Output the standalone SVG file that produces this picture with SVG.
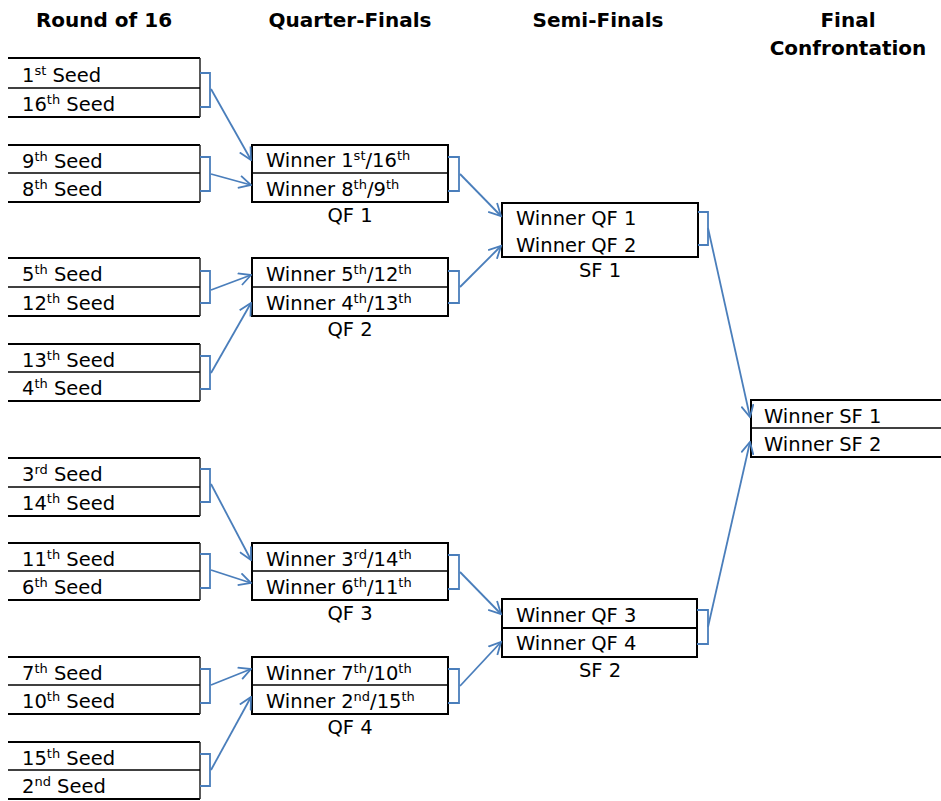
<svg xmlns="http://www.w3.org/2000/svg" width="941" height="801" viewBox="0 0 941 801">
<style>
text{font-family:"DejaVu Sans","Verdana",sans-serif;font-size:19.5px;fill:#000}
.h{font-weight:bold;font-size:20px;text-anchor:middle}
.c{text-anchor:middle}
.edge{stroke:#000;stroke-width:2;fill:none}
.side{stroke:#222;stroke-width:1.5;fill:none}
.mid{stroke:#000;stroke-width:1.3;fill:none}
.br{stroke:#4a7ebb;stroke-width:1.8;fill:none}
.ar{stroke:#4a7ebb;stroke-width:1.8;fill:none;marker-end:url(#a)}
</style>
<defs>
<marker id="a" markerUnits="userSpaceOnUse" viewBox="0 0 14 14" markerWidth="14" markerHeight="14" refX="12.5" refY="7" orient="auto">
<path d="M0.5,0.8 L12.5,7 L0.5,13.2" fill="none" stroke="#4a7ebb" stroke-width="1.8"/>
</marker>
</defs>
<rect width="941" height="801" fill="#fff"/>
<g id="headers">
<text class="h" x="104" y="27">Round of 16</text>
<text class="h" x="350" y="27">Quarter-Finals</text>
<text class="h" x="598" y="27">Semi-Finals</text>
<text class="h" x="848" y="27">Final</text>
<text class="h" x="848" y="55">Confrontation</text>
</g>
<g id="r16-1"><path class="edge" d="M8,58 H200 M8,117 H200"/><path class="side" d="M200,58 V117"/><path class="mid" d="M8,88 H200"/>
<text x="22" y="82">1<tspan dy="-7" font-size="13">st</tspan><tspan dy="7"> Seed</tspan></text>
<text x="22" y="111">16<tspan dy="-7" font-size="13">th</tspan><tspan dy="7"> Seed</tspan></text></g>
<g id="r16-2"><path class="edge" d="M8,145 H200 M8,202 H200"/><path class="side" d="M200,145 V202"/><path class="mid" d="M8,173 H200"/>
<text x="22" y="168">9<tspan dy="-7" font-size="13">th</tspan><tspan dy="7"> Seed</tspan></text>
<text x="22" y="196">8<tspan dy="-7" font-size="13">th</tspan><tspan dy="7"> Seed</tspan></text></g>
<g id="r16-3"><path class="edge" d="M8,258 H200 M8,316 H200"/><path class="side" d="M200,258 V316"/><path class="mid" d="M8,287 H200"/>
<text x="22" y="281">5<tspan dy="-7" font-size="13">th</tspan><tspan dy="7"> Seed</tspan></text>
<text x="22" y="310">12<tspan dy="-7" font-size="13">th</tspan><tspan dy="7"> Seed</tspan></text></g>
<g id="r16-4"><path class="edge" d="M8,344 H200 M8,401 H200"/><path class="side" d="M200,344 V401"/><path class="mid" d="M8,372 H200"/>
<text x="22" y="367">13<tspan dy="-7" font-size="13">th</tspan><tspan dy="7"> Seed</tspan></text>
<text x="22" y="395">4<tspan dy="-7" font-size="13">th</tspan><tspan dy="7"> Seed</tspan></text></g>
<g id="r16-5"><path class="edge" d="M8,458 H200 M8,516 H200"/><path class="side" d="M200,458 V516"/><path class="mid" d="M8,487 H200"/>
<text x="22" y="481">3<tspan dy="-7" font-size="13">rd</tspan><tspan dy="7"> Seed</tspan></text>
<text x="22" y="510">14<tspan dy="-7" font-size="13">th</tspan><tspan dy="7"> Seed</tspan></text></g>
<g id="r16-6"><path class="edge" d="M8,543 H200 M8,600 H200"/><path class="side" d="M200,543 V600"/><path class="mid" d="M8,571 H200"/>
<text x="22" y="566">11<tspan dy="-7" font-size="13">th</tspan><tspan dy="7"> Seed</tspan></text>
<text x="22" y="594">6<tspan dy="-7" font-size="13">th</tspan><tspan dy="7"> Seed</tspan></text></g>
<g id="r16-7"><path class="edge" d="M8,657 H200 M8,714 H200"/><path class="side" d="M200,657 V714"/><path class="mid" d="M8,685 H200"/>
<text x="22" y="680">7<tspan dy="-7" font-size="13">th</tspan><tspan dy="7"> Seed</tspan></text>
<text x="22" y="708">10<tspan dy="-7" font-size="13">th</tspan><tspan dy="7"> Seed</tspan></text></g>
<g id="r16-8"><path class="edge" d="M8,742 H200 M8,799 H200"/><path class="side" d="M200,742 V799"/><path class="mid" d="M8,770 H200"/>
<text x="22" y="765">15<tspan dy="-7" font-size="13">th</tspan><tspan dy="7"> Seed</tspan></text>
<text x="22" y="793">2<tspan dy="-7" font-size="13">nd</tspan><tspan dy="7"> Seed</tspan></text></g>
<g id="qf1"><rect class="edge" x="252" y="145" width="196" height="57"/><path class="mid" d="M252,173 H448"/>
<text x="266" y="167">Winner 1<tspan dy="-7" font-size="13">st</tspan><tspan dy="7">/16</tspan><tspan dy="-7" font-size="13">th</tspan></text>
<text x="266" y="196">Winner 8<tspan dy="-7" font-size="13">th</tspan><tspan dy="7">/9</tspan><tspan dy="-7" font-size="13">th</tspan></text>
<text class="c" x="350" y="222">QF 1</text></g>
<g id="qf2"><rect class="edge" x="252" y="258" width="196" height="58"/><path class="mid" d="M252,287 H448"/>
<text x="266" y="281">Winner 5<tspan dy="-7" font-size="13">th</tspan><tspan dy="7">/12</tspan><tspan dy="-7" font-size="13">th</tspan></text>
<text x="266" y="310">Winner 4<tspan dy="-7" font-size="13">th</tspan><tspan dy="7">/13</tspan><tspan dy="-7" font-size="13">th</tspan></text>
<text class="c" x="350" y="336">QF 2</text></g>
<g id="qf3"><rect class="edge" x="252" y="543" width="196" height="57"/><path class="mid" d="M252,571 H448"/>
<text x="266" y="566">Winner 3<tspan dy="-7" font-size="13">rd</tspan><tspan dy="7">/14</tspan><tspan dy="-7" font-size="13">th</tspan></text>
<text x="266" y="594">Winner 6<tspan dy="-7" font-size="13">th</tspan><tspan dy="7">/11</tspan><tspan dy="-7" font-size="13">th</tspan></text>
<text class="c" x="350" y="620">QF 3</text></g>
<g id="qf4"><rect class="edge" x="252" y="657" width="196" height="57"/><path class="mid" d="M252,685 H448"/>
<text x="266" y="680">Winner 7<tspan dy="-7" font-size="13">th</tspan><tspan dy="7">/10</tspan><tspan dy="-7" font-size="13">th</tspan></text>
<text x="266" y="708">Winner 2<tspan dy="-7" font-size="13">nd</tspan><tspan dy="7">/15</tspan><tspan dy="-7" font-size="13">th</tspan></text>
<text class="c" x="350" y="734">QF 4</text></g>
<g id="sf1"><rect class="edge" x="502" y="203" width="196" height="54"/>
<text x="516" y="225">Winner QF 1</text>
<text x="516" y="252">Winner QF 2</text>
<text class="c" x="600" y="277">SF 1</text></g>
<g id="sf2"><rect class="edge" x="502" y="599" width="195" height="58"/><path class="edge" d="M502,628 H697"/>
<text x="516" y="622">Winner QF 3</text>
<text x="516" y="650">Winner QF 4</text>
<text class="c" x="600" y="677">SF 2</text></g>
<g id="final"><path class="edge" d="M941,400 H751 V457 H941"/><path class="mid" d="M751,428 H941"/>
<text x="764" y="423">Winner SF 1</text>
<text x="764" y="451">Winner SF 2</text></g>
<g id="connectors">
<path class="br" d="M200,73 H210 V107 H200"/>
<path class="br" d="M200,157 H210 V191 H200"/>
<path class="br" d="M200,271 H210 V303 H200"/>
<path class="br" d="M200,356 H210 V389 H200"/>
<path class="br" d="M200,469 H210 V502 H200"/>
<path class="br" d="M200,554 H210 V588 H200"/>
<path class="br" d="M200,669 H210 V703 H200"/>
<path class="br" d="M200,754 H210 V786 H200"/>
<path class="br" d="M448,157 H459 V191 H448"/>
<path class="br" d="M448,271 H459 V303 H448"/>
<path class="br" d="M448,555 H459 V589 H448"/>
<path class="br" d="M448,669 H459 V703 H448"/>
<path class="br" d="M698,212 H708 V245 H698"/>
<path class="br" d="M697,610 H708 V644 H697"/>
<path class="ar" d="M211,89 L251,160"/>
<path class="ar" d="M211,174 L251,185"/>
<path class="ar" d="M211,290 L251,275"/>
<path class="ar" d="M211,373 L251,303"/>
<path class="ar" d="M211,484 L251,560"/>
<path class="ar" d="M211,570 L251,583"/>
<path class="ar" d="M211,685 L251,669"/>
<path class="ar" d="M211,770 L251,697"/>
<path class="ar" d="M460,174 L501,216"/>
<path class="ar" d="M460,287 L501,246"/>
<path class="ar" d="M460,572 L501,614"/>
<path class="ar" d="M460,686 L501,642"/>
<path class="ar" d="M708,228 L750,417"/>
<path class="ar" d="M708,627 L750,442"/>
</g>
</svg>
